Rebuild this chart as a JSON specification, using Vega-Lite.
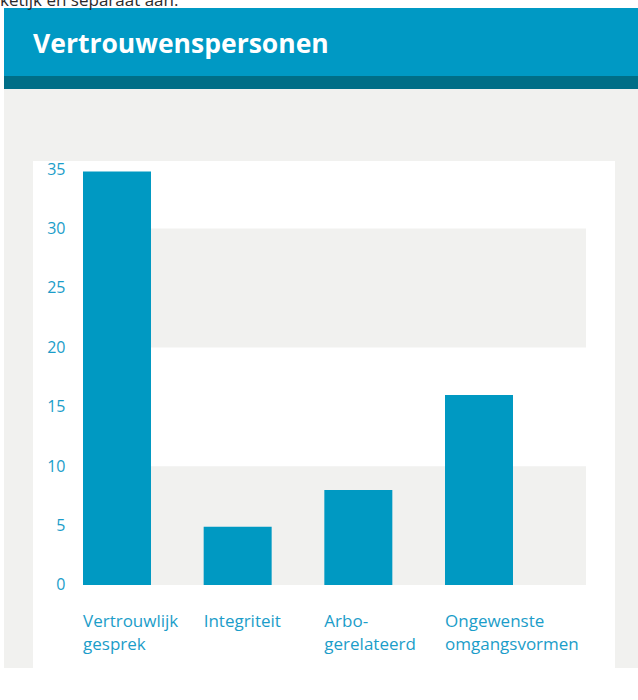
{
  "$schema": "https://vega.github.io/schema/vega-lite/v6.json",
  "background": "white",
  "padding": {"left": 0, "top": -8, "right": 0, "bottom": 0},
  "title": {"text": "ketijk en separaat aan.", "anchor": "start", "frame": "group", "offset": -15, "baseline": "alphabetic", "fontSize": 17, "fontWeight": "normal", "color": "#2b2b2b", "font": "Open Sans", "dx": -4},
  "spacing": 0,
  "bounds": "flush",
  "config": {"view": {"stroke": null}, "font": "Open Sans"},
  "vconcat": [
    {
      "width": 634, "height": 68,
      "view": {"fill": "#0099C4", "stroke": null},
      "data": {"values": [{"kop": "Vertrouwenspersonen"}]},
      "mark": {"type": "text", "align": "left", "baseline": "alphabetic", "dx": -288, "dy": 11.3, "fontSize": 26.5, "fontWeight": "bold", "color": "white", "font": "Open Sans"},
      "encoding": {"text": {"field": "kop"}}
    },
    {
      "width": 634, "height": 13,
      "view": {"fill": "#006E87", "stroke": null},
      "data": {"values": [{}]},
      "mark": {"type": "rect", "color": "#006E87"},
      "encoding": {}
    },
    {
      "width": 634, "height": 40,
      "view": {"fill": "#F1F1EF", "stroke": null},
      "data": {"values": [{}]},
      "mark": {"type": "rect", "color": "#F1F1EF"},
      "encoding": {}
    },
    {
      "spacing": 0,
      "bounds": "flush",
      "hconcat": [
        {
          "width": 29, "height": 539,
          "view": {"fill": "#F1F1EF", "stroke": null},
          "data": {"values": [{}]},
          "mark": {"type": "rect", "color": "#F1F1EF"},
          "encoding": {}
        },
        {
          "width": 50, "height": 539,
          "view": {"fill": "white", "stroke": null},
          "data": {"values": [{}]},
          "mark": {"type": "rect", "color": "white"},
          "encoding": {}
        },
        {
          "width": 503, "height": 539,
          "view": {"fill": "white", "stroke": null},
          "layer": [
            {
              "data": {"values": [{"van": 0, "tot": 10}, {"van": 20, "tot": 30}]},
              "mark": {"type": "rect", "color": "#F1F1EF"},
              "encoding": {
                "y": {"field": "van", "type": "quantitative", "title": null,
                  "scale": {"domain": [-6.987, 38.384], "nice": false, "zero": false},
                  "axis": {"values": [0, 5, 10, 15, 20, 25, 30, 35], "domain": false, "ticks": false, "tickSize": 0, "grid": false, "labelPadding": 18, "labelFontSize": 16, "labelColor": "#1b9dc9", "labelFont": "Open Sans", "title": null}},
                "y2": {"field": "tot"}
              }
            },
            {
              "data": {"values": [
                {"categorie": "Vertrouwlijk gesprek", "aantal": 34.8},
                {"categorie": "Integriteit", "aantal": 4.9},
                {"categorie": "Arbo-gerelateerd", "aantal": 8},
                {"categorie": "Ongewenste omgangsvormen", "aantal": 16}
              ]},
              "mark": {"type": "bar", "color": "#0099C2"},
              "encoding": {
                "x": {"field": "categorie", "type": "nominal", "sort": null, "title": null,
                  "scale": {"paddingInner": 0.4365, "paddingOuter": 0.3025, "align": 0},
                  "axis": {"orient": "bottom", "offset": -83, "labelOffset": -34, "labelAlign": "left", "labelBaseline": "alphabetic", "labelPadding": 41.7, "labelAngle": 0, "labelLineHeight": 22.6, "labelFontSize": 17, "labelColor": "#1b9dc9", "labelFont": "Open Sans", "labelOverlap": false, "labelBound": false, "labelLimit": 0, "domain": false, "ticks": false, "tickSize": 0, "grid": false, "title": null,
                    "labelExpr": "datum.label == 'Arbo-gerelateerd' ? ['Arbo-', 'gerelateerd'] : split(datum.label, ' ')"}},
                "y": {"field": "aantal", "type": "quantitative", "title": null,
                  "axis": {"values": [0, 5, 10, 15, 20, 25, 30, 35], "domain": false, "ticks": false, "tickSize": 0, "grid": false, "labelPadding": 18, "labelFontSize": 16, "labelColor": "#1b9dc9", "labelFont": "Open Sans", "title": null}}
              }
            }
          ]
        },
        {
          "width": 29, "height": 539,
          "view": {"fill": "white", "stroke": null},
          "data": {"values": [{}]},
          "mark": {"type": "rect", "color": "white"},
          "encoding": {}
        },
        {
          "width": 23, "height": 539,
          "view": {"fill": "#F1F1EF", "stroke": null},
          "data": {"values": [{}]},
          "mark": {"type": "rect", "color": "#F1F1EF"},
          "encoding": {}
        }
      ]
    },
    {
      "width": 634, "height": 32,
      "view": {"fill": "#F1F1EF", "stroke": null},
      "data": {"values": [{}]},
      "mark": {"type": "rect", "color": "#F1F1EF"},
      "encoding": {}
    }
  ]
}
